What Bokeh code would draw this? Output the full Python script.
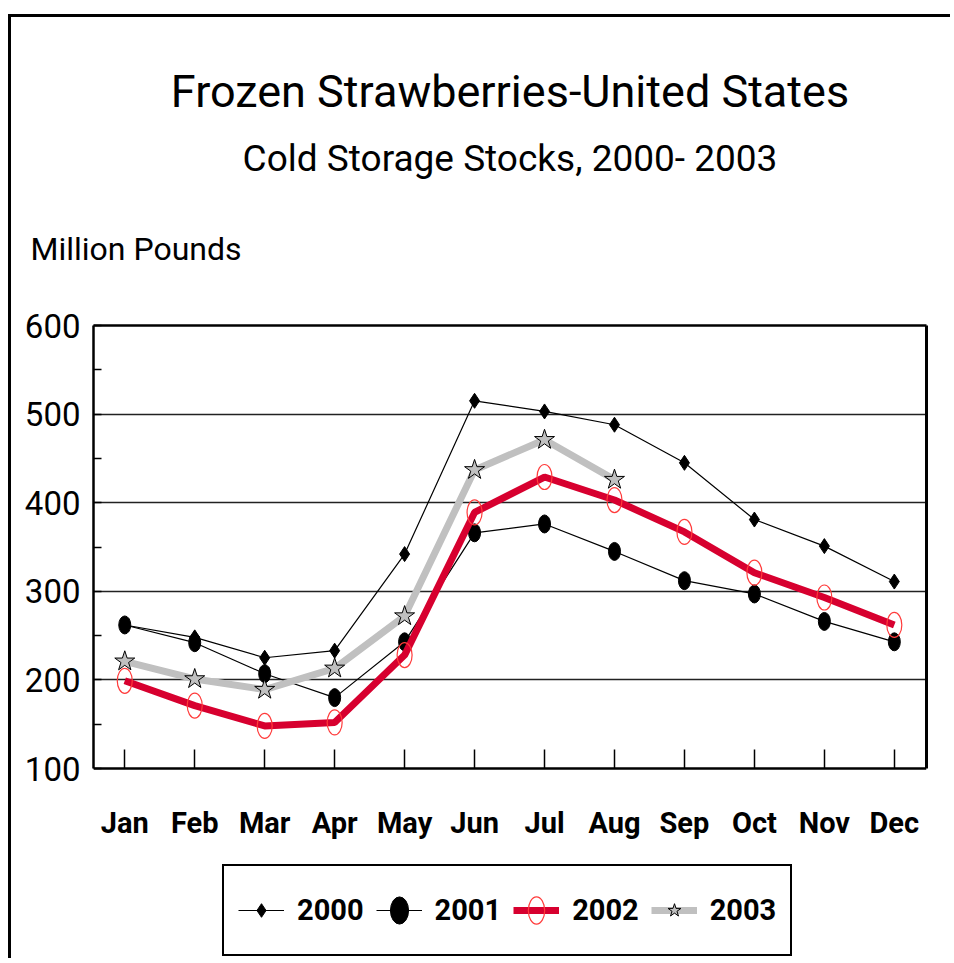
from bokeh.plotting import figure
from bokeh.models import Legend, LegendItem, FixedTicker, Range1d, Title, LinearAxis
from bokeh.embed import file_html
from bokeh.resources import INLINE

# ---------------- data ----------------
months = ["Jan", "Feb", "Mar", "Apr", "May", "Jun", "Jul", "Aug", "Sep", "Oct", "Nov", "Dec"]
y2000 = [262, 248, 225, 233, 342, 515, 503, 488, 445, 381, 351, 311]
y2001 = [262, 242, 207, 180, 243, 366, 376, 345, 312, 297, 266, 243]
y2002 = [199, 171, 148, 152, 228, 389, 429, 403, 367, 321, 293, 262]
y2003 = [221, 201, 189, 213, 272, 437, 471, 426]
series_names = ["2000", "2001", "2002", "2003"]
y_ticks = [100, 200, 300, 400, 500, 600]
y_minor = [150, 250, 350, 450, 550]
grid_values = [200, 300, 400, 500]
title = "Frozen Strawberries-United States"
subtitle = "Cold Storage Stocks, 2000- 2003"
y_label = "Million Pounds"

FONT = "Roboto"

# ---------------- layout (page pixels) ----------------
CX, CY = 11, 17                    # canvas origin on page (after css margin + border)
W, H = 942, 944
FL, FR, FT = 93, 926, 325          # plot box left/right/top on page
PB = 768                           # plot box bottom (value 100) on page
FBF = CY + H - 3                   # frame bottom (frame extends down to hold the legend)
X0, X1 = -0.447, 11.46
YMIN, YMAX = 100, 600
px_per_unit = (PB - FT) / (YMAX - YMIN)
Y_FRAME_BOTTOM = YMIN - (FBF - PB) / px_per_unit

xs = list(range(len(months)))

p = figure(width=W, height=H,
           x_range=Range1d(X0, X1), y_range=Range1d(Y_FRAME_BOTTOM, YMAX),
           output_backend="svg", toolbar_location=None,
           min_border_left=FL - CX, min_border_right=CX + W - FR,
           min_border_top=FT - CY, min_border_bottom=CY + H - FBF)
p.styles = {"margin-left": "8px", "margin-top": "14px",
            "border-left": "3px solid black", "border-top": "3px solid black"}
p.background_fill_color = "white"
p.border_fill_color = "white"
p.outline_line_color = None

# grid
p.xgrid.visible = False
p.ygrid.ticker = FixedTicker(ticks=grid_values)
p.ygrid.grid_line_color = "#222222"
p.ygrid.grid_line_width = 1.3

# y axis (left)
p.yaxis.ticker = FixedTicker(ticks=y_ticks, minor_ticks=y_minor)
p.yaxis.bounds = (YMIN, YMAX)
p.yaxis.major_tick_in = 8
p.yaxis.major_tick_out = 0
p.yaxis.minor_tick_in = 8
p.yaxis.minor_tick_out = 0
p.yaxis.axis_line_width = 2.5
p.yaxis.major_tick_line_width = 1.5
p.yaxis.minor_tick_line_width = 1.5
p.yaxis.major_label_text_font = FONT
p.yaxis.major_label_text_font_size = "33px"
p.yaxis.major_label_text_color = "black"
p.yaxis.major_label_standoff = 13

# x axis, fixed at value 100 (bottom of plot box)
p.xaxis.ticker = FixedTicker(ticks=xs)
p.xaxis.fixed_location = YMIN
p.xaxis.major_label_overrides = {i: m for i, m in enumerate(months)}
p.xaxis.major_tick_in = 19
p.xaxis.major_tick_out = 0
p.xaxis.minor_tick_line_color = None
p.xaxis.axis_line_width = 2.5
p.xaxis.major_tick_line_width = 1.5
p.xaxis.major_label_text_font = FONT
p.xaxis.major_label_text_font_size = "29px"
p.xaxis.major_label_text_font_style = "bold"
p.xaxis.major_label_text_color = "black"
p.xaxis.major_label_standoff = 37

# right and top edges of the plot box
right_ax = LinearAxis(ticker=FixedTicker(ticks=[]), bounds=(YMIN, YMAX),
                      axis_line_width=3, major_tick_line_color=None, minor_tick_line_color=None,
                      major_label_standoff=0, major_tick_out=0)
p.add_layout(right_ax, "right")
top_ax = LinearAxis(ticker=FixedTicker(ticks=[]), axis_line_width=2.5,
                    major_tick_line_color=None, minor_tick_line_color=None,
                    major_label_standoff=0, major_tick_out=0)
p.add_layout(top_ax, "above")

# series
r00l = p.line(xs, y2000, line_color="black", line_width=1.2)
r00m = p.scatter(xs, y2000, marker="diamond", size=15, fill_color="black", line_color="black")

r01l = p.line(xs, y2001, line_color="black", line_width=1.2)
r01m = p.ellipse(xs, y2001, width=12, height=18, width_units="screen", height_units="screen",
                 fill_color="black", line_color="black")

r03l = p.line(xs[:len(y2003)], y2003, line_color="#C0C0C0", line_width=7)
r02l = p.line(xs, y2002, line_color="#D7002F", line_width=7)
r02m = p.ellipse(xs, y2002, width=15, height=25, width_units="screen", height_units="screen",
                 fill_color=None, line_color="#FF3B3B", line_width=1.2)
r03m = p.scatter(xs[:len(y2003)], y2003, marker="star", size=21, fill_color="#C0C0C0",
                 line_color="black", line_width=1)

# legend in the lower part of the frame
LEG_H = 88
legend = Legend(items=[
    LegendItem(label=series_names[0], renderers=[r00l, r00m]),
    LegendItem(label=series_names[1], renderers=[r01l, r01m]),
    LegendItem(label=series_names[2], renderers=[r02l, r02m]),
    LegendItem(label=series_names[3], renderers=[r03l, r03m]),
], location=(222 - FL, FBF - 956), orientation="horizontal",
   padding=14, spacing=12, glyph_width=46, glyph_height=34, label_standoff=13,
   label_height=LEG_H - 28, margin=0,
   label_text_font=FONT, label_text_font_size="29px", label_text_font_style="bold",
   label_text_color="black",
   border_line_color="black", border_line_width=2, border_line_alpha=1,
   background_fill_color="white", background_fill_alpha=1)
p.add_layout(legend)

# titles stacked above the frame (first added = closest to frame)
def spacer(h):
    return Title(text=" ", text_font_size="1px", standoff=max(h - 3.2, 0))

def head(text, size, align="center", offset=0):
    return Title(text=text, text_font=FONT, text_font_size=f"{size}px", align=align,
                 offset=offset, standoff=0, text_color="black", text_font_style="normal",
                 vertical_align="bottom")

def box(size, baseline):
    asc, desc = 0.928 * size, 0.244 * size
    return baseline - asc, baseline + desc   # top, bottom

MP_S, SUB_S, TIT_S = 32, 37, 45
mp_top, mp_bot = box(MP_S, 259)
sub_top, sub_bot = box(SUB_S, 170)
tit_top, tit_bot = box(TIT_S, 106)

p.add_layout(spacer(FT - mp_bot), "above")
p.add_layout(head(y_label, MP_S, align="left", offset=30 - FL), "above")
p.add_layout(spacer(mp_top - 2 - sub_bot), "above")
p.add_layout(head(subtitle, SUB_S), "above")
p.add_layout(spacer(sub_top - 2 - tit_bot), "above")
p.add_layout(head(title, TIT_S), "above")

open("out.html", "w").write(file_html(p, INLINE))
